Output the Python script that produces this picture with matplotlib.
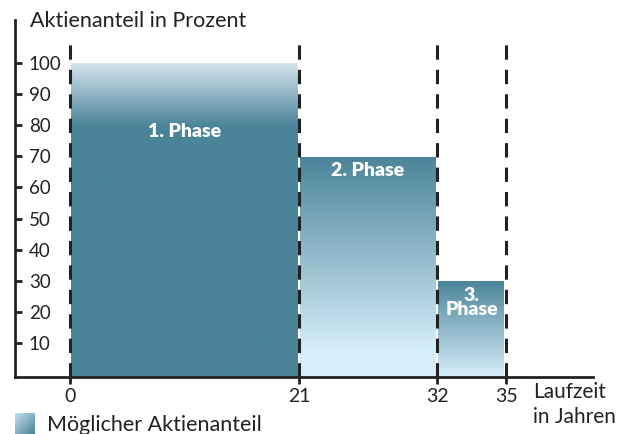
import numpy as np
import matplotlib
matplotlib.use("Agg")
import matplotlib.pyplot as plt
from matplotlib.colors import LinearSegmentedColormap

plt.rcParams['font.family'] = ['Lato', 'DejaVu Sans']

# data
phase_start = [0, 21, 32]
phase_end = [21, 32, 35]
aktienanteil = [100, 70, 30]
phase_labels = ['1. Phase', '2. Phase', '3.\nPhase']
x_ticks = [0, 21, 32, 35]
y_ticks = [10, 20, 30, 40, 50, 60, 70, 80, 90, 100]

dark = '#4b8499'
light_top = '#d5e5ee'
light_bottom = '#d6eefa'
line_col = '#222222'

# the x axis is not to scale in the original: each phase gets its own width
seg_px = [229, 138, 69]
bp_pos = np.concatenate([[0], np.cumsum(seg_px)])
bp_years = np.array(x_ticks, dtype=float)
slope_l = seg_px[0] / 21
slope_r = seg_px[-1] / 3


def fwd(x):
    x = np.asarray(x, dtype=float)
    return np.where(x < 0, x * slope_l,
                    np.where(x > 35, bp_pos[-1] + (x - 35) * slope_r,
                             np.interp(x, bp_years, bp_pos)))


def inv(p):
    p = np.asarray(p, dtype=float)
    return np.where(p < 0, p / slope_l,
                    np.where(p > bp_pos[-1], 35 + (p - bp_pos[-1]) / slope_r,
                             np.interp(p, bp_pos, bp_years)))


fig = plt.figure(figsize=(6.26, 4.34), dpi=100)
ax = fig.add_axes([15 / 626, 57 / 434, 578 / 626, 357 / 434])
ax.set_xscale('function', functions=(fwd, inv))
ax.set_xlim(float(inv(-55)), float(inv(523)))
ymin, ymax = -0.93, 113.8
ax.set_ylim(ymin, ymax)

# gradient for each phase
n = 256
grad_1 = LinearSegmentedColormap.from_list('g1', [(0, dark), (0.8, dark), (1, light_top)])
grad_2 = LinearSegmentedColormap.from_list('g2', [(0, light_bottom), (0.12, light_bottom), (1, dark)])
grad_3 = LinearSegmentedColormap.from_list('g3', [(0, light_bottom), (1, dark)])
cmaps = [grad_1, grad_2, grad_3]
label_offset = [22, 4.5, 7]
for x0, x1, h, cm, lab, off in zip(phase_start, phase_end, aktienanteil, cmaps,
                                   phase_labels, label_offset):
    g = np.linspace(0, 1, n).reshape(-1, 1)
    ax.imshow(g, cmap=cm, extent=[x0 + 0.05, x1 - 0.05, ymin, h], origin='lower',
              aspect='auto', interpolation='bilinear', zorder=1)
    xc = float(inv((fwd(x0) + fwd(x1)) / 2))
    ax.text(xc, h - off, lab, color='white', ha='center', va='center',
            fontsize=14, fontweight='heavy', linespacing=0.85, zorder=3)

ax.vlines(x_ticks, ymin, 108, colors=line_col, linewidth=2.2,
          linestyles=(0, (4.7, 3.3)), zorder=4)

for s in ['top', 'right']:
    ax.spines[s].set_visible(False)
for s in ['left', 'bottom']:
    ax.spines[s].set_linewidth(2)
    ax.spines[s].set_color(line_col)

ax.set_xticks(x_ticks)
ax.set_xticklabels([str(t) for t in x_ticks])
ax.xaxis.set_minor_locator(plt.NullLocator())
ax.set_yticks(y_ticks)
ax.set_yticklabels([str(t) for t in y_ticks])
ax.tick_params(axis='x', direction='out', length=5, width=2, color=line_col,
               labelsize=14, labelcolor='#222222', pad=3)
ax.tick_params(axis='y', direction='in', length=5, width=2, color=line_col,
               labelsize=13.5, labelcolor='#222222', pad=-10)
for t in ax.get_yticklabels():
    t.set_horizontalalignment('left')

fig.text(30 / 626, 1 - 21 / 434, 'Aktienanteil in Prozent', fontsize=15.5,
         color='#222222', va='center', ha='left')
fig.text(533 / 626, 1 - 392 / 434, 'Laufzeit', fontsize=15,
         color='#222222', va='center', ha='left')
fig.text(533 / 626, 1 - 417 / 434, 'in Jahren', fontsize=15,
         color='#222222', va='center', ha='left')

# legend square
lax = fig.add_axes([15 / 626, 0, 20 / 626, 21 / 434])
xx, yy = np.meshgrid(np.linspace(0, 1, 40), np.linspace(0, 1, 40))
lg = LinearSegmentedColormap.from_list('lg', ['#c3e0f0', dark])
lax.imshow((xx + yy) / 2, cmap=lg, aspect='auto', interpolation='bilinear')
lax.axis('off')
fig.text(47 / 626, 1 - 425 / 434, 'Möglicher Aktienanteil', fontsize=15.5,
         color='#222222', va='center', ha='left')

fig.savefig('out.png', dpi=100)
